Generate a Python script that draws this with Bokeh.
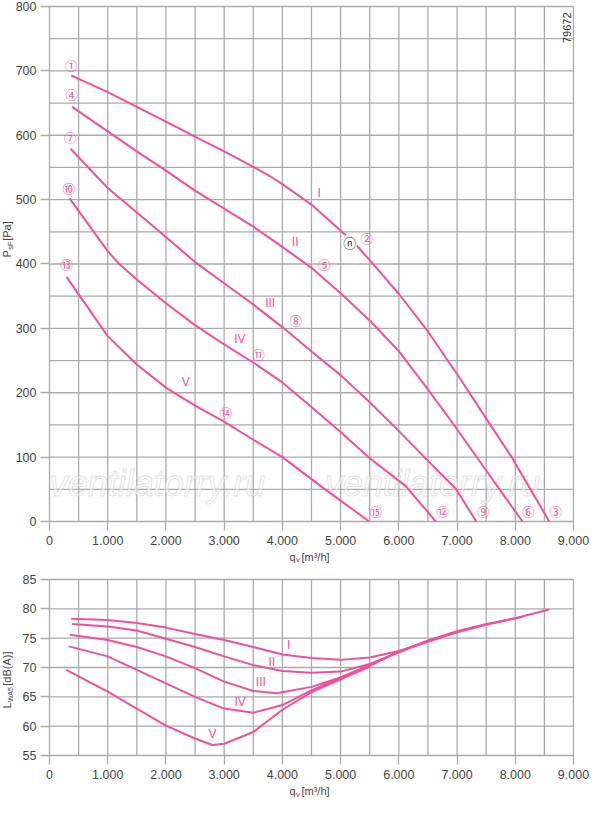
import math
from bokeh.plotting import figure
from bokeh.layouts import column
from bokeh.models import FixedTicker, Label, Range1d, ColumnDataSource
from bokeh.core.properties import value
from bokeh.embed import file_html
from bokeh.resources import INLINE

PINK = "#f0509b"
GRID = "#aaaaaa"
FONT = "Liberation Sans"

# axes
x_ticks = [0, 1000, 2000, 3000, 4000, 5000, 6000, 7000, 8000, 9000]
x_tick_labels = ["0", "1.000", "2.000", "3.000", "4.000", "5.000", "6.000", "7.000", "8.000", "9.000"]
x_minor = [500, 1500, 2500, 3500, 4500, 5500, 6500, 7500, 8500]
p_ticks = [0, 100, 200, 300, 400, 500, 600, 700, 800]
p_minor = [50, 150, 250, 350, 450, 550, 650, 750]
l_ticks = [55, 60, 65, 70, 75, 80, 85]

# pressure curves (qv m3/h, Pa)
p1_x = [372, 1000, 1500, 2000, 2500, 3000, 3500, 3830, 4000, 4517, 5061, 5262, 5519, 6006, 6493, 7008, 7494, 7953, 8583]
p1_y = [693, 667, 644, 621, 598, 575, 551, 534, 524, 491, 447, 430, 404, 353, 296, 228, 161, 98, 0]
p2_x = [389, 1000, 1500, 2000, 2500, 3000, 3500, 3945, 4500, 5033, 5491, 6006, 6493, 6979, 7494, 8124]
p2_y = [644, 606, 575, 545, 514, 486, 458, 430, 394, 352, 313, 264, 206, 146, 80, 0]
p3_x = [361, 1000, 1500, 2000, 2500, 3000, 3500, 4000, 4500, 5004, 5491, 6006, 6493, 6979, 7330]
p3_y = [579, 518, 480, 442, 403, 370, 337, 302, 264, 227, 186, 140, 95, 51, 0]
p4_x = [344, 1000, 1197, 1500, 2000, 2500, 3000, 3500, 4000, 4500, 5000, 5491, 6120, 6635]
p4_y = [502, 420, 400, 376, 339, 305, 275, 247, 216, 178, 139, 99, 55, 0]
p5_x = [292, 1000, 1500, 2000, 2500, 3000, 3500, 4000, 4689, 5491]
p5_y = [380, 288, 244, 208, 180, 155, 127, 100, 53, 0]

# sound power curves (qv m3/h, dB(A))
s1_x = [373, 1000, 1500, 2000, 2500, 3000, 3500, 4000, 4500, 5000, 5500, 6000, 6500, 7000, 7500, 8000, 8583]
s1_y = [78.3, 78.1, 77.6, 76.8, 75.7, 74.7, 73.5, 72.2, 71.6, 71.3, 71.7, 72.8, 74.4, 76.0, 77.3, 78.4, 79.9]
s2_x = [390, 1000, 1500, 2000, 2500, 3000, 3500, 4000, 4500, 5000, 5500, 6000, 6500, 7000, 7500, 8124]
s2_y = [77.4, 77.0, 76.3, 74.9, 73.5, 71.9, 70.4, 69.4, 69.1, 69.3, 70.6, 72.6, 74.5, 76.1, 77.4, 78.6]
s3_x = [350, 1000, 1500, 2000, 2500, 3000, 3500, 3900, 4500, 5000, 5500, 6000, 6500, 7000, 7330]
s3_y = [75.6, 74.7, 73.5, 71.9, 69.9, 67.6, 66.0, 65.6, 66.7, 68.3, 70.3, 72.7, 74.6, 76.2, 77.0]
s4_x = [333, 1000, 1500, 2000, 2500, 3000, 3500, 4000, 4500, 5000, 5500, 6000, 6635]
s4_y = [73.6, 71.9, 69.6, 67.3, 65.0, 63.0, 62.3, 63.6, 66.1, 68.3, 70.4, 72.7, 75.0]
s5_x = [287, 1000, 1500, 2000, 2500, 2800, 3000, 3500, 4000, 4500, 5000, 5491]
s5_y = [69.6, 65.9, 63.0, 60.1, 57.9, 56.8, 57.0, 59.0, 62.8, 65.8, 68.0, 70.1]

# curve markers
circ_text = ["①", "②", "③", "④", "⑤", "⑥", "⑦", "⑧", "⑨", "⑩", "⑪", "⑫", "⑬", "⑭", "⑮"]
circ_x = [372, 5450, 8697, 383, 4718, 8222, 355, 4231, 7449, 332, 3590, 6750, 292, 3029, 5605]
circ_y = [708, 440, 15, 664, 399, 15, 597, 312, 15, 518, 259, 15, 399, 170, 15]
roman = ["I", "II", "III", "IV", "V"]
roman_px = [4632, 4220, 3790, 3269, 2341]
roman_py = [511, 434, 339, 283, 216]
roman_sx = [4106, 3819, 3630, 3274, 2798]
roman_sy = [73.9, 71.0, 67.6, 64.1, 58.6]

# the frame fills the whole canvas, so the ranges run past the data area
# to leave room for the tick labels and axis titles (58.2 px per 1000 m3/h)
X_RANGE = (-841.6, 9292.1)


def chart(height, y_range, y_ticks, y_minor):
    p = figure(width=590, height=height, x_range=Range1d(*X_RANGE), y_range=Range1d(*y_range),
               output_backend="svg", toolbar_location=None,
               min_border_left=0, min_border_right=0, min_border_top=0, min_border_bottom=0)
    p.grid.visible = False
    p.outline_line_color = None
    y0, y1 = y_ticks[0], y_ticks[-1]

    # grid
    vx = x_ticks + x_minor
    p.segment(vx, [y0] * len(vx), vx, [y1] * len(vx), line_color=GRID, line_width=1.3)
    hy = y_ticks + y_minor
    p.segment([0] * len(hy), hy, [9000] * len(hy), hy, line_color=GRID, line_width=1.3)

    p.xaxis.fixed_location = y0
    p.xaxis.bounds = (0, 9000)
    p.xaxis.ticker = FixedTicker(ticks=x_ticks)
    p.xaxis.major_label_overrides = dict(zip(x_ticks, x_tick_labels))
    p.yaxis.fixed_location = 0
    p.yaxis.bounds = (y0, y1)
    p.yaxis.ticker = FixedTicker(ticks=y_ticks)
    for ax in p.axis:
        ax.axis_line_color = None
        ax.major_tick_line_color = GRID
        ax.major_tick_line_width = 1.3
        ax.major_tick_out = 9
        ax.major_tick_in = 0
        ax.minor_tick_line_color = None
        ax.major_label_text_font = FONT
        ax.major_label_text_font_size = "12.5px"
        ax.major_label_text_color = "#444444"
    p.xaxis.major_label_standoff = 6
    p.yaxis.major_label_standoff = 4
    return p


def lab(p, x, y, text, size="11px", angle=0, baseline="alphabetic"):
    p.add_layout(Label(x=x, y=y, text=text, angle=angle, text_font=FONT, text_font_size=size,
                       text_color="#444444", text_align="left", text_baseline=baseline))


# ---------------- pressure chart
p = chart(565, (-68.35, 809.32), p_ticks, p_minor)

wm = ColumnDataSource(dict(x=[1855, 6580], y=[59, 59], t=["ventilatorry.ru", "ventilatorry.ru"]))
p.text("x", "y", text="t", source=wm, text_font=value(FONT), text_font_style="italic",
       text_font_size="36px", text_color="white", text_alpha=0.5, text_outline_color="#c4c4c4",
       text_align="center", text_baseline="alphabetic")

for xs, ys in [(p1_x, p1_y), (p2_x, p2_y), (p3_x, p3_y), (p4_x, p4_y), (p5_x, p5_y)]:
    p.line(xs, ys, line_color=PINK, line_width=2)

p.scatter([5158], [434], size=16, fill_color="white", line_color=None)
p.text([5158], [434], text=["ⓝ"], text_font=value("Noto Sans CJK JP"), text_font_size="13px",
       text_color="#222222", text_align="center", text_baseline="middle")
p.text(circ_x, circ_y, text=circ_text, text_font=value("Noto Sans CJK JP"), text_font_size="12.5px",
       text_color=PINK, text_align="center", text_baseline="middle")
p.text(roman_px, roman_py, text=roman, text_font=value(FONT), text_font_size="12px",
       text_color=PINK, text_align="center", text_baseline="middle")
p.text([8880], [767], text=["79672"], angle=math.pi / 2, text_font=value(FONT), text_font_size="11px",
       text_color="#333333", text_align="center", text_baseline="middle")

lab(p, -730, 410, "P", angle=math.pi / 2, baseline="middle")
lab(p, -662, 422, "sF", size="7.5px", angle=math.pi / 2, baseline="middle")
lab(p, -730, 436, "[Pa]", angle=math.pi / 2, baseline="middle")
lab(p, 4122, -54.5, "q")
lab(p, 4234, -59, "v", size="7.5px")
lab(p, 4328, -54.5, "[m³/h]")

# ---------------- sound power chart
q = chart(234, (47.5, 87.386), l_ticks, [])

for xs, ys in [(s1_x, s1_y), (s2_x, s2_y), (s3_x, s3_y), (s4_x, s4_y), (s5_x, s5_y)]:
    q.line(xs, ys, line_color=PINK, line_width=2)
q.text(roman_sx, roman_sy, text=roman, text_font=value(FONT), text_font_size="12px",
       text_color=PINK, text_align="center", text_baseline="middle")

lab(q, -730, 63.0, "L", angle=math.pi / 2, baseline="middle")
lab(q, -666, 64.1, "WA5", size="7px", angle=math.pi / 2, baseline="middle")
lab(q, -730, 66.9, "[dB(A)]", angle=math.pi / 2, baseline="middle")
lab(q, 4122, 48.9, "q")
lab(q, 4234, 48.4, "v", size="7.5px")
lab(q, 4328, 48.9, "[m³/h]")

layout = column(p, q)
open("out.html", "w").write(file_html(layout, INLINE))
